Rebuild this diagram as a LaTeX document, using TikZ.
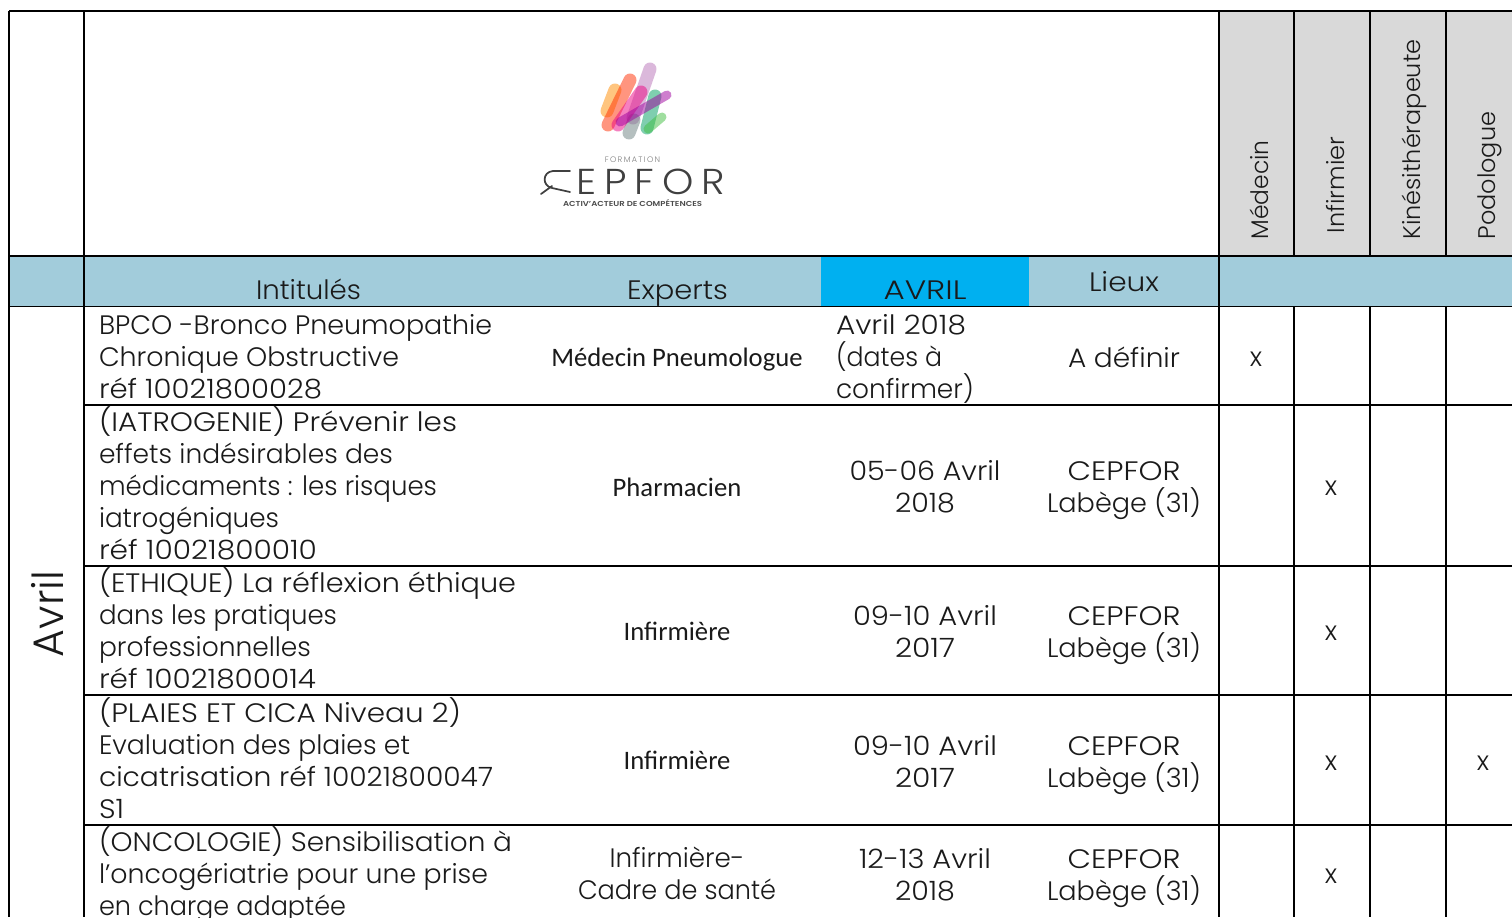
\documentclass[tikz,border=0pt]{standalone}
\usepackage{graphicx}
\usepackage{fontspec}
\setmainfont{Poppins}[UprightFont=* Light]
\newfontfamily\logofont{Poppins}[UprightFont=* Light,LetterSpace=20]
\newfontfamily\expfont{Carlito}
\definecolor{band}{HTML}{A2CCDB}
\definecolor{avril}{HTML}{00B0F0}
\definecolor{grey}{HTML}{D9D9D9}
\definecolor{ink}{HTML}{1A1A1A}
\newlength\pxu \setlength\pxu{0.75pt}
% a line of text set to a given width in picture pixels
\newcommand\fitw[2]{\resizebox{#1\pxu}{\height}{#2}}
\tikzset{
  x=0.75pt,y=-0.75pt,
  grid/.style={draw=black,line width=1.3pt},
  txt/.style={inner sep=0pt,outer sep=0pt,text=ink,font=\fontsize{20}{24}\selectfont},
  left cell/.style={txt,anchor=north west,align=left},
  mid cell/.style={txt,align=center},
  head cell/.style={txt,anchor=base},
  expert/.style={inner sep=0pt,text=ink,font=\expfont\fontsize{20}{24}\selectfont,align=center},
  vert/.style={txt,rotate=90,anchor=west,font=\fontsize{18}{20}\selectfont},
  mark cell/.style={txt},
  stripe/.style={line cap=round,line width=#1*0.75pt,opacity=0.5},
}
\begin{document}
\begin{tikzpicture}
\useasboundingbox (0,0) rectangle (1512,917);
\fill[white] (0,0) rectangle (1512,917);
% fills
\fill[band] (9,256) rectangle (1512,306.5);
\fill[avril] (821,257) rectangle (1029,306);
\fill[grey] (1219,11) rectangle (1512,256);
% logo
\draw[stripe=13,color=orange!90!yellow] (615,90) -- (607,111);
\draw[stripe=13,color=red!65!orange] (630,80) -- (608,125);
\draw[stripe=13,color=violet!55!white] (650,69) -- (633,118);
\draw[stripe=13,color=gray!85!teal] (634,120) -- (629,133);
\draw[stripe=13,color=magenta!90!red] (641,92) -- (618,125);
\draw[stripe=13,color=teal!75!green] (655,96) -- (647,128);
\draw[stripe=9,color=green!50!gray] (662,117) -- (648,129);
\draw[stripe=9,color=violet!75!magenta] (667,95) -- (620,122);
\node[txt,font=\fontsize{6}{7}\selectfont,text=gray] (lf) at (632.5,160) {F\,O\,R\,M\,A\,T\,I\,O\,N};
\node[txt,font=\logofont\fontsize{27}{30}\selectfont,text=black!75,anchor=west] (lc) at (576,182) {\fitw{149}{EPFOR}};
\draw[black!75,line width=1.3pt,line cap=round] (570,171) -- (553,171) .. controls (542,172) and (542,186) .. (552,188) -- (570,192);
\draw[black!75,line width=1.3pt,line cap=round] (552,186) -- (541,194);
\node[txt,font=\bfseries\fontsize{5.4}{6}\selectfont,text=black!70] (la) at (632.5,203.5) {\fitw{139}{ACTIV'ACTEUR DE COMPÉTENCES}};
% header
\node[head cell] (h1) at (308.5,299) {\fitw{105}{Intitulés}};
\node[head cell] (h2) at (677.5,299) {\fitw{101}{Experts}};
\node[head cell] (h3) at (925,299) {\fitw{83}{AVRIL}};
\node[head cell] (h4) at (1124,291) {\fitw{70}{Lieux}};
\node[vert] (v1) at (1259,239.5) {\fitw{99}{Médecin}};
\node[vert] (v2) at (1335,233) {Infirmier};
\node[vert] (v3) at (1414,239.5) {\fitw{200}{Kinésithérapeute}};
\node[vert] (v4) at (1490,239.5) {Podologue};
\node[txt,rotate=90,font=\fontsize{32}{34}\selectfont] (month) at (47,614) {Avril};
% row 1
\node[left cell] (t1) at (99,314) {\fitw{393}{BPCO -Bronco Pneumopathie}\\\fitw{300}{Chronique Obstructive}\\\fitw{223}{réf 10021800028}};
\node[expert] (e1) at (677,359.5) {Médecin Pneumologue};
\node[left cell] (d1) at (836,314) {\fitw{130}{Avril 2018}\\\fitw{106}{(dates à}\\\fitw{138}{confirmer)}};
\node[mid cell] (l1) at (1124,357) {\fitw{112}{A définir}};
\node[mark cell] (m1) at (1256,359) {x};
% row 2
\node[left cell] (t2) at (99,407) {\fitw{358}{(IATROGENIE) Prévenir les}\\\fitw{294}{effets indésirables des}\\\fitw{338}{médicaments : les risques}\\\fitw{180}{iatrogéniques}\\\fitw{218}{réf 10021800010}};
\node[expert] (e2) at (677,487) {Pharmacien};
\node[mid cell] (d2) at (925,487) {\fitw{151}{05-06 Avril}\\\fitw{60}{2018}};
\node[mid cell] (l2) at (1124,490.5) {\fitw{113}{CEPFOR}\\\fitw{154}{Labège (31)}};
\node[mark cell] (m2) at (1331,488) {x};
% row 3
\node[left cell] (t3) at (99,568) {\fitw{417}{(ETHIQUE) La réflexion éthique}\\\fitw{238}{dans les pratiques}\\\fitw{212}{professionnelles}\\\fitw{217}{réf 10021800014}};
\node[expert] (e3) at (677,631) {Infirmière};
\node[mid cell] (d3) at (925,631) {\fitw{144}{09-10 Avril}\\\fitw{60}{2017}};
\node[mid cell] (l3) at (1124,635.5) {\fitw{113}{CEPFOR}\\\fitw{154}{Labège (31)}};
\node[mark cell] (m3) at (1331,633) {x};
% row 4
\node[left cell] (t4) at (99,698) {\fitw{362}{(PLAIES ET CICA Niveau 2)}\\\fitw{311}{Evaluation des plaies et}\\\fitw{394}{cicatrisation réf 10021800047}\\\fitw{25}{S1}};
\node[expert] (e4) at (677,760) {Infirmière};
\node[mid cell] (d4) at (925,761) {\fitw{144}{09-10 Avril}\\\fitw{60}{2017}};
\node[mid cell] (l4) at (1124,765.5) {\fitw{113}{CEPFOR}\\\fitw{154}{Labège (31)}};
\node[mark cell] (m4) at (1331,763) {x};
\node[mark cell] (m4b) at (1483,763) {x};
% row 5
\node[left cell] (t5) at (99,827) {\fitw{413}{(ONCOLOGIE) Sensibilisation à}\\\fitw{389}{l'oncogériatrie pour une prise}\\\fitw{247}{en charge adaptée}};
\node[mid cell] (e5) at (677,873.5) {\fitw{135}{Infirmière-}\\\fitw{198}{Cadre de santé}};
\node[mid cell] (d5) at (925,874.5) {\fitw{132}{12-13 Avril}\\\fitw{60}{2018}};
\node[mid cell] (l5) at (1124,878.5) {\fitw{113}{CEPFOR}\\\fitw{154}{Labège (31)}};
\node[mark cell] (m5) at (1331,876) {x};
% grid
\draw[grid] (9,11) -- (1512,11);
\draw[grid] (9,256) -- (1512,256);
\draw[grid] (9,306.5) -- (1512,306.5);
\foreach \yy in {405,566,695,825} \draw[grid] (84,\yy) -- (1512,\yy);
\foreach \xx in {9,84,1219} \draw[grid] (\xx,11) -- (\xx,917);
\foreach \xx in {1294,1370,1446} {\draw[grid] (\xx,11) -- (\xx,256); \draw[grid] (\xx,306.5) -- (\xx,917);}
\end{tikzpicture}
\end{document}
